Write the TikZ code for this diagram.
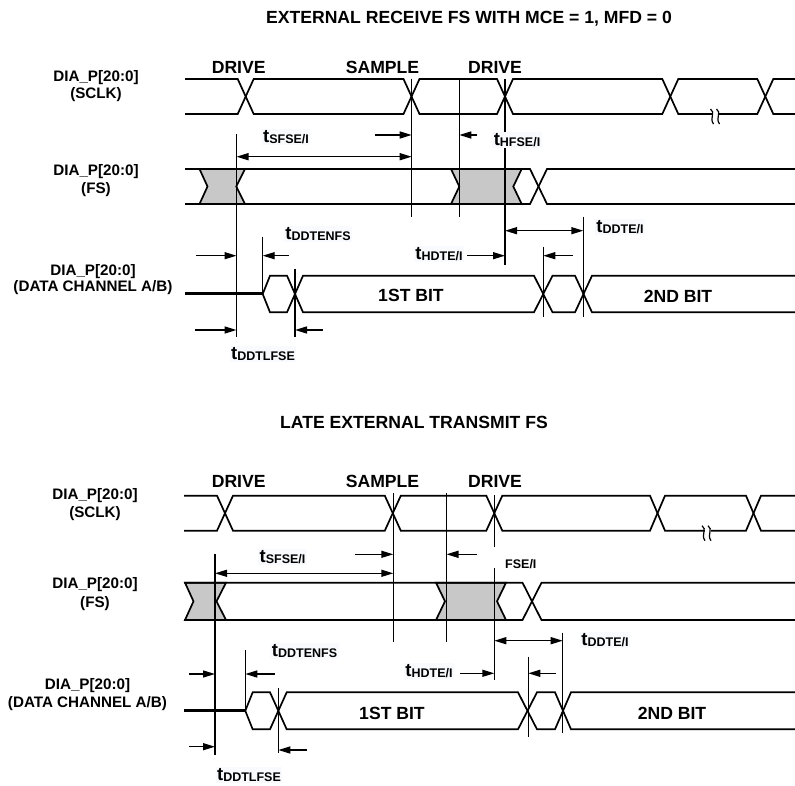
\documentclass[tikz,border=0pt]{standalone}
\usepackage{fontspec}
\setmainfont{Liberation Sans}
\usetikzlibrary{arrows.meta}
\definecolor{shade}{RGB}{200,200,200}
\definecolor{labbg}{RGB}{248,250,253}
\newcommand{\tsub}[1]{{\fontsize{18.5}{20}\selectfont t}\raisebox{-1.6pt}{\fontsize{12.5}{14}\selectfont #1}}
\begin{document}
\begin{tikzpicture}[x=1pt,y=-1pt,
  wave/.style={line width=1.7pt, line join=miter},
  zline/.style={line width=3pt},
  vline/.style={line width=1.5pt},
  dim/.style={line width=1.4pt, -{Triangle[length=12pt,width=7pt]}},
  ddim/.style={line width=1.4pt, {Triangle[length=12pt,width=7pt]}-{Triangle[length=12pt,width=7pt]}},
  graybox/.style={fill=shade, line width=1.7pt, line join=miter},
  bigtxt/.style={font=\bfseries\fontsize{17.6}{20}\selectfont, inner sep=0pt, anchor=base},
  rowtxt/.style={font=\bfseries\fontsize{15.2}{18}\selectfont, inner sep=0pt, anchor=base},
  tlab/.style={font=\bfseries, inner sep=1.5pt, fill=labbg},
  squig/.style={line width=1.2pt}
]
\fill[white] (0,0) rectangle (795,786);
\useasboundingbox (0,0) rectangle (795,786);

%================ TOP PANEL =================
\node[bigtxt] (title1) at (469,23.3) {EXTERNAL RECEIVE FS WITH MCE = 1, MFD = 0};
\node[bigtxt] (drvA) at (238.7,73.3) {DRIVE};
\node[bigtxt] (smpA) at (382.5,73.3) {SAMPLE};
\node[bigtxt] (drvB) at (495,73.3) {DRIVE};

\node[rowtxt] (clkA1) at (96,81.5) {DIA\_P[20:0]};
\node[rowtxt] (clkA2) at (96,98.5) {(SCLK)};
\node[rowtxt] (fsA1) at (96,175.7) {DIA\_P[20:0]};
\node[rowtxt] (fsA2) at (96,194) {(FS)};
\node[rowtxt] (dA1) at (93,275.3) {DIA\_P[20:0]};
\node[rowtxt] (dA2) at (93,291) {(DATA CHANNEL A/B)};

% SCLK
\draw[wave] (185,79) -- (237.7,79) -- (253.7,114) -- (403.5,114) -- (419.5,79) -- (497,79) -- (513,114) -- (662.3,114) -- (678.3,79) -- (757.3,79) -- (773.3,114) -- (795,114);
\draw[wave] (185,114) -- (237.7,114) -- (253.7,79) -- (403.5,79) -- (419.5,114) -- (497,114) -- (513,79) -- (662.3,79) -- (678.3,114) -- (757.3,114) -- (773.3,79) -- (795,79);
\fill[white] (713,111.5) rectangle (719,116.5);
\draw[squig] (710.5,109) .. controls (716,112.5) and (709,118) .. (713.5,124);
\draw[squig] (716.5,109) .. controls (722,112.5) and (715,118) .. (719.5,124);

% FS
\draw[graybox] (199.5,169) -- (207.5,186.5) -- (199.5,204) -- (245,204) -- (236.3,186.5) -- (245,169) -- cycle;
\draw[graybox] (451,169) -- (459.3,186.5) -- (451,204) -- (521.7,204) -- (513.3,186.5) -- (521.7,169) -- cycle;
\draw[wave] (185,169) -- (530,169) -- (547,204) -- (795,204);
\draw[wave] (185,204) -- (530,204) -- (547,169) -- (795,169);

% DATA
\draw[zline] (185,294) -- (262.7,294);
\draw[wave] (262.7,294) -- (270,275.7) -- (287,275.7) -- (303,312.3) -- (534,312.3) -- (552.5,275.7) -- (575,275.7) -- (592,312.3) -- (795,312.3);
\draw[wave] (262.7,294) -- (270,312.3) -- (287,312.3) -- (303,275.7) -- (534,275.7) -- (552.5,312.3) -- (575,312.3) -- (592,275.7) -- (795,275.7);
\node[bigtxt] (bitA1) at (411,301.7) {1ST BIT};
\node[bigtxt] (bitA2) at (678,302.3) {2ND BIT};

% vertical reference lines
\draw[vline] (236.5,134) -- (236.5,336.7);
\draw[vline] (411.7,79) -- (411.7,216.7);
\draw[vline] (459.3,79) -- (459.3,216.7);
\draw[vline] (505,79) -- (505,264.7);
\draw[vline] (262.7,236.7) -- (262.7,294);
\draw[vline] (295,269) -- (295,336.7);
\draw[vline] (543.3,246.7) -- (543.3,316.7);
\draw[vline] (583.3,216.7) -- (583.3,316.7);

% dimension arrows
\draw[dim] (375,135) -- (411.7,135);
\draw[ddim] (236.5,156.7) -- (411.7,156.7);
\draw[dim] (477,135) -- (459.3,135);
\draw[dim] (289,255.7) -- (262.7,255.7);
\draw[dim] (196,255.7) -- (236.5,255.7);
\draw[dim] (195,330) -- (236.5,330);
\draw[dim] (323,330) -- (295,330);
\draw[dim] (467,255.7) -- (505,255.7);
\draw[ddim] (505,230.7) -- (583.3,230.7);
\draw[dim] (573,255.7) -- (543.3,255.7);

\node[tlab] (tsfseA) at (286,137) {\tsub{SFSE/I}};
\node[tlab] (thfseA) at (517,140) {\tsub{HFSE/I}};
\node[tlab] (tddtenfsA) at (318,234) {\tsub{DDTENFS}};
\node[tlab] (tddtlfseA) at (263,354) {\tsub{DDTLFSE}};
\node[tlab] (thdteA) at (439,254) {\tsub{HDTE/I}};
\node[tlab] (tddteA) at (620,227) {\tsub{DDTE/I}};

%================ BOTTOM PANEL =================
\node[bigtxt] (title2) at (414,428.3) {LATE EXTERNAL TRANSMIT FS};
\node[bigtxt] (drvC) at (238.7,487.3) {DRIVE};
\node[bigtxt] (smpC) at (382.5,487.5) {SAMPLE};
\node[bigtxt] (drvD) at (495,487.3) {DRIVE};

\node[rowtxt] (clkB1) at (95,499.3) {DIA\_P[20:0]};
\node[rowtxt] (clkB2) at (95,517.3) {(SCLK)};
\node[rowtxt] (fsB1) at (95,588.3) {DIA\_P[20:0]};
\node[rowtxt] (fsB2) at (95,607.3) {(FS)};
\node[rowtxt] (dB1) at (87.5,689.3) {DIA\_P[20:0]};
\node[rowtxt] (dB2) at (87.5,707.3) {(DATA CHANNEL A/B)};

% SCLK
\draw[wave] (184,495.7) -- (217,495.7) -- (233,530.7) -- (384.8,530.7) -- (400.8,495.7) -- (486.3,495.7) -- (502.3,530.7) -- (650,530.7) -- (665,495.7) -- (746,495.7) -- (761,530.7) -- (795,530.7);
\draw[wave] (184,530.7) -- (217,530.7) -- (233,495.7) -- (384.8,495.7) -- (400.8,530.7) -- (486.3,530.7) -- (502.3,495.7) -- (650,495.7) -- (665,530.7) -- (746,530.7) -- (761,495.7) -- (795,495.7);
\fill[white] (704.5,528.2) rectangle (710.5,533.2);
\draw[squig] (702,525.7) .. controls (707.5,529.2) and (700.5,534.7) .. (705,540.7);
\draw[squig] (708,525.7) .. controls (713.5,529.2) and (706.5,534.7) .. (711,540.7);

% FS
\draw[graybox] (185,582.7) -- (193.5,601.3) -- (185,620) -- (226,620) -- (216.5,601.3) -- (226,582.7) -- cycle;
\draw[graybox] (436,582.7) -- (445,601.3) -- (436,620) -- (506,620) -- (497,601.3) -- (506,582.7) -- cycle;
\draw[wave] (184,582.7) -- (522.5,582.7) -- (541.5,620) -- (795,620);
\draw[wave] (184,620) -- (522.5,620) -- (541.5,582.7) -- (795,582.7);

% DATA
\draw[zline] (184,710.8) -- (245.3,710.8);
\draw[wave] (245.3,710.8) -- (252.7,692.3) -- (270,692.3) -- (286.7,729.3) -- (518,729.3) -- (537,692.3) -- (555,692.3) -- (571,729.3) -- (795,729.3);
\draw[wave] (245.3,710.8) -- (252.7,729.3) -- (270,729.3) -- (286.7,692.3) -- (518,692.3) -- (537,729.3) -- (555,729.3) -- (571,692.3) -- (795,692.3);
\node[bigtxt] (bitB1) at (392,719.3) {1ST BIT};
\node[bigtxt] (bitB2) at (672,719.3) {2ND BIT};

% vertical reference lines
\draw[vline] (215,554) -- (215,755);
\draw[vline] (393.3,493.3) -- (393.3,641.7);
\draw[vline] (446.5,493.3) -- (446.5,641.7);
\draw[vline] (494.3,495) -- (494.3,680);
\draw[vline] (245.3,650) -- (245.3,710.8);
\draw[vline] (278.3,688.3) -- (278.3,753.3);
\draw[vline] (528.3,656.7) -- (528.3,736.7);
\draw[vline] (562.7,632.7) -- (562.7,733.3);

% dimension arrows
\draw[dim] (355,554.3) -- (393.3,554.3);
\draw[ddim] (215,573.3) -- (393.3,573.3);
\draw[dim] (477,554.3) -- (446.5,554.3);
\draw[dim] (275,674) -- (245.3,674);
\draw[dim] (189,674) -- (215,674);
\draw[dim] (189,746.7) -- (215,746.7);
\draw[dim] (307.3,750) -- (278.3,750);
\draw[dim] (460,673.3) -- (494.3,673.3);
\draw[ddim] (494.3,640.7) -- (562.7,640.7);
\draw[dim] (556,673.3) -- (528.3,673.3);

\fill[white] (488.5,546.7) rectangle (503.5,568.3);
\node[font=\bfseries\fontsize{12.5}{14}\selectfont, inner sep=0pt, anchor=base west] (fseB) at (505,568.5) {FSE/I};

\node[tlab] (tsfseB) at (282.5,557) {\tsub{SFSE/I}};
\node[tlab] (tddtenfsB) at (304.5,651) {\tsub{DDTENFS}};
\node[tlab] (tddtlfseB) at (249,775) {\tsub{DDTLFSE}};
\node[tlab] (thdteB) at (429,671) {\tsub{HDTE/I}};
\node[tlab] (tddteB) at (605,640) {\tsub{DDTE/I}};
\end{tikzpicture}
\end{document}
